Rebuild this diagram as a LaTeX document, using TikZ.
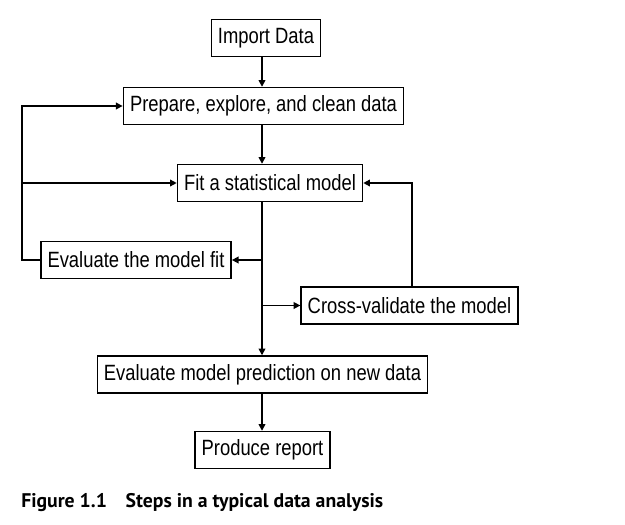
\documentclass[tikz,border=0pt]{standalone}
\usepackage{fontspec}
\setmainfont{Liberation Sans}
\newfontfamily\capfont{PT Sans}
\newcommand{\tall}[1]{\scalebox{1}[1.2]{#1}}
\usetikzlibrary{positioning,arrows.meta}

\begin{document}
\begin{tikzpicture}[x=0.75pt,y=-0.75pt,
    stepbox/.style={draw,line width=1.1pt,inner xsep=5pt,inner ysep=0pt,
        minimum height=27.75pt,font=\fontsize{13.8}{16}\selectfont},
    flow/.style={line width=1.1pt,-{Triangle[length=5pt,width=5pt]}}]
    \useasboundingbox (0,0) rectangle (625,525);
    % steps
    \node[stepbox] (imp) at (266,38) {\tall{Import Data}};
    \node[stepbox] (prep) at (263.5,106) {\tall{Prepare, explore, and clean data}};
    \node[stepbox] (fit) at (270,183) {\tall{Fit a statistical model}};
    \node[stepbox] (evfit) at (136,260) {\tall{Evaluate the model fit}};
    \node[stepbox] (cv) at (409.5,305.5) {\tall{Cross-validate the model}};
    \node[stepbox] (evpred) at (262.5,374.5) {\tall{Evaluate model prediction on new data}};
    \node[stepbox] (rep) at (262.5,450) {\tall{Produce report}};
    \coordinate (trunk) at (262,0);
    \coordinate (lft) at (22,0);
    \coordinate (rgt) at (412,0);
    % main line
    \draw[flow] (imp.south -| trunk) -- (prep.north -| trunk);
    \draw[flow] (prep.south -| trunk) -- (fit.north -| trunk);
    \draw[flow] (fit.south -| trunk) -- (evpred.north -| trunk);
    \draw[flow] (evpred.south -| trunk) -- (rep.north -| trunk);
    \draw[flow] (evfit.east -| trunk) -- (evfit.east);
    \draw[flow] (cv.west -| trunk) -- (cv.west);
    % loops back
    \draw[flow] (evfit.west) -- (evfit.west -| lft) |- (prep.west);
    \draw[flow] (fit.west -| lft) -- (fit.west);
    \draw[flow] (cv.north -| rgt) |- (fit.east);
    % caption
    \node[anchor=west,inner sep=0pt,font=\capfont\bfseries\fontsize{14.8}{17}\selectfont] (cap) at (21,503)
        {Figure 1.1\hspace{14pt}Steps in a typical data analysis};
\end{tikzpicture}
\end{document}
